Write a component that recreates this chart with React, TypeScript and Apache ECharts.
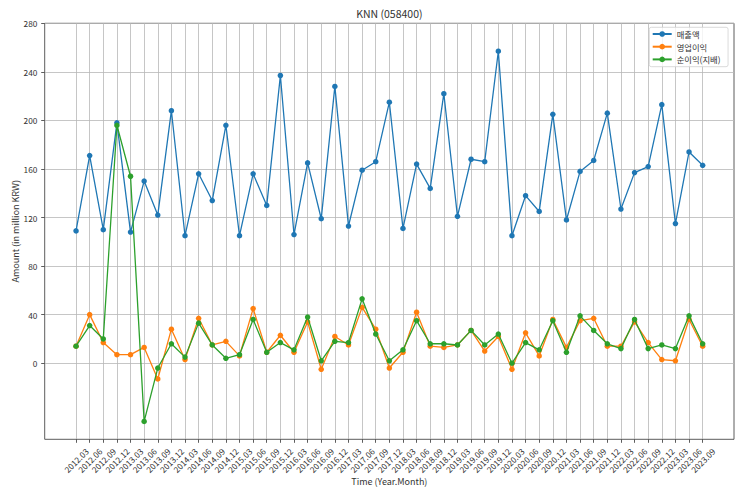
import React, { useEffect, useRef } from 'react';
import * as echarts from 'echarts';

const categories = [
  '2012.03', '2012.06', '2012.09', '2012.12',
  '2013.03', '2013.06', '2013.09', '2013.12',
  '2014.03', '2014.06', '2014.09', '2014.12',
  '2015.03', '2015.06', '2015.09', '2015.12',
  '2016.03', '2016.06', '2016.09', '2016.12',
  '2017.03', '2017.06', '2017.09', '2017.12',
  '2018.03', '2018.06', '2018.09', '2018.12',
  '2019.03', '2019.06', '2019.09', '2019.12',
  '2020.03', '2020.06', '2020.09', '2020.12',
  '2021.03', '2021.06', '2021.09', '2021.12',
  '2022.03', '2022.06', '2022.09', '2022.12',
  '2023.03', '2023.06', '2023.09',
];

const revenue = [
  109, 171, 110, 198, 108, 150, 122, 208, 105, 156, 134, 196, 105, 156, 130, 237,
  106, 165, 119, 228, 113, 159, 166, 215, 111, 164, 144, 222, 121, 168, 166, 257,
  105, 138, 125, 205, 118, 158, 167, 206, 127, 157, 162, 213, 115, 174, 163,
];

const operatingProfit = [
  14, 40, 17, 7, 7, 13, -13, 28, 3, 37, 15, 18, 6, 45, 9, 23,
  9, 34, -5, 22, 15, 46, 28, -4, 9, 42, 14, 13, 15, 27, 10, 22,
  -5, 25, 6, 36, 13, 35, 37, 14, 14, 34, 17, 3, 2, 36, 14,
];

const netProfit = [
  14, 31, 20, 196, 154, -48, -4, 16, 5, 33, 15, 4, 7, 36, 9, 17,
  11, 38, 2, 18, 17, 53, 24, 2, 11, 35, 16, 16, 15, 27, 15, 24,
  0, 17, 11, 35, 9, 39, 27, 16, 12, 36, 12, 15, 12, 39, 16,
];

const yTicks = [0, 40, 80, 120, 160, 200, 240, 280];
const seriesNames = ['매출액', '영업이익', '순이익(지배)'];
const chartTitle = 'KNN (058400)';
const xName = 'Time (Year.Month)';
const yName = 'Amount (in million KRW)';
const yLimits = [-62.7, 280];

const COLORS = ['#1f77b4', '#ff7f0e', '#2ca02c'];
const FONT = "'Noto Sans CJK KR', 'Noto Sans', sans-serif";
const TEXT = '#333333';
const GRID = '#b8b8b8';

export default function App() {
  const ref = useRef<HTMLDivElement>(null);

  useEffect(() => {
    if (!ref.current) return;
    const chart = echarts.init(ref.current, null, { renderer: 'svg' });

    const frame = { left: 44.7, top: 23.3, right: 734, bottom: 439.3 };
    const n = categories.length;
    const pad = 0.05 * (n - 1);
    const frameW = frame.right - frame.left;
    const frameH = frame.bottom - frame.top;
    const unit = frameW / (n - 1 + 2 * pad);
    const [yMin, yMax] = yLimits;
    const pxPerY = frameH / (yMax - yMin);
    const zeroY = frame.top + (yMax - yTicks[0]) * pxPerY;

    const dataSets = [revenue, operatingProfit, netProfit];

    chart.setOption({
      animation: false,
      backgroundColor: '#ffffff',
      title: {
        text: chartTitle,
        left: frame.left + frameW / 2,
        top: 8.3,
        textAlign: 'center',
        padding: 0,
        textStyle: { fontSize: 10.5, fontWeight: 'normal', color: '#333', fontFamily: FONT },
      },
      legend: {
        orient: 'vertical',
        left: 649.3,
        top: 27.3,
        padding: [1.7, 7.6, 2.3, 2.4],
        itemWidth: 19,
        itemHeight: 7,
        itemGap: 2.7,
        selectedMode: false,
        data: seriesNames,
        textStyle: { fontSize: 8.3, lineHeight: 10, color: TEXT, fontFamily: FONT },
        borderColor: '#d0d0d0',
        borderWidth: 0.8,
        borderRadius: 2,
        backgroundColor: 'rgba(255,255,255,0.8)',
      },
      grid: [
        {
          left: frame.left, top: frame.top, width: frameW, height: frameH,
          show: true, borderColor: '#333', borderWidth: 0.8, backgroundColor: 'transparent',
          containLabel: false, outerBoundsMode: 'none',
        },
        {
          left: frame.left + pad * unit, top: frame.top, width: (n - 1) * unit, height: frameH,
          containLabel: false, outerBoundsMode: 'none',
        },
        {
          left: frame.left, top: frame.top, width: frameW, height: zeroY - frame.top,
          containLabel: false, outerBoundsMode: 'none',
        },
      ],
      xAxis: [
        { type: 'value', gridIndex: 0, min: -pad, max: n - 1 + pad, show: false },
        {
          type: 'category',
          gridIndex: 1,
          data: categories,
          boundaryGap: false,
          position: 'bottom',
          axisLine: { show: false, onZero: false },
          axisTick: { show: true, interval: 0, length: 3.5, inside: false, lineStyle: { color: '#333', width: 0.8 } },
          axisLabel: {
            interval: 0, rotate: 45, align: 'center', verticalAlign: 'middle', margin: 20.7,
            fontSize: 8.3, color: TEXT, fontFamily: FONT, hideOverlap: false,
          },
          splitLine: { show: true, interval: 0, lineStyle: { color: GRID, width: 0.8 } },
          name: xName,
          nameLocation: 'middle',
          nameGap: 38,
          nameMoveOverlap: false,
          nameTextStyle: { fontSize: 9, color: TEXT, fontFamily: FONT },
        },
        { type: 'value', gridIndex: 2, show: false, min: 0, max: 1, axisLine: { onZero: false } },
      ],
      yAxis: [
        {
          type: 'value', gridIndex: 0, min: yMin, max: yMax,
          axisLine: { show: false, onZero: false }, axisTick: { show: false }, axisLabel: { show: false },
          splitLine: { show: false },
          name: yName, nameLocation: 'middle', nameGap: 25, nameRotate: 90,
          nameMoveOverlap: false,
          nameTextStyle: { fontSize: 9, color: TEXT, fontFamily: FONT },
        },
        { type: 'value', gridIndex: 1, show: false, min: 0, max: 1, axisLine: { onZero: false } },
        {
          type: 'value', gridIndex: 2,
          min: yTicks[0], max: yTicks[yTicks.length - 1], interval: yTicks[1] - yTicks[0],
          axisLine: { show: false, onZero: false },
          axisTick: { show: true, length: 3.5, inside: false, lineStyle: { color: '#333', width: 0.8 } },
          axisLabel: { margin: 7.3, fontSize: 8.3, color: TEXT, fontFamily: FONT },
          splitLine: { show: true, lineStyle: { color: GRID, width: 0.8 } },
        },
      ],
      series: dataSets.map((vals, k) => ({
        type: 'line',
        name: seriesNames[k],
        xAxisIndex: 0,
        yAxisIndex: 0,
        data: vals.map((v, i) => [i, v]),
        symbol: 'circle',
        symbolSize: 5.5,
        showSymbol: true,
        showAllSymbol: true,
        color: COLORS[k],
        lineStyle: { width: 1.3, color: COLORS[k] },
        itemStyle: { color: COLORS[k] },
        emphasis: { disabled: true },
        z: 2 + k,
      })),
    });

    return () => chart.dispose();
  }, []);

  return (
    <div
      ref={ref}
      style={{ position: 'absolute', left: 0, top: 0, width: 743, height: 495 }}
    />
  );
}
